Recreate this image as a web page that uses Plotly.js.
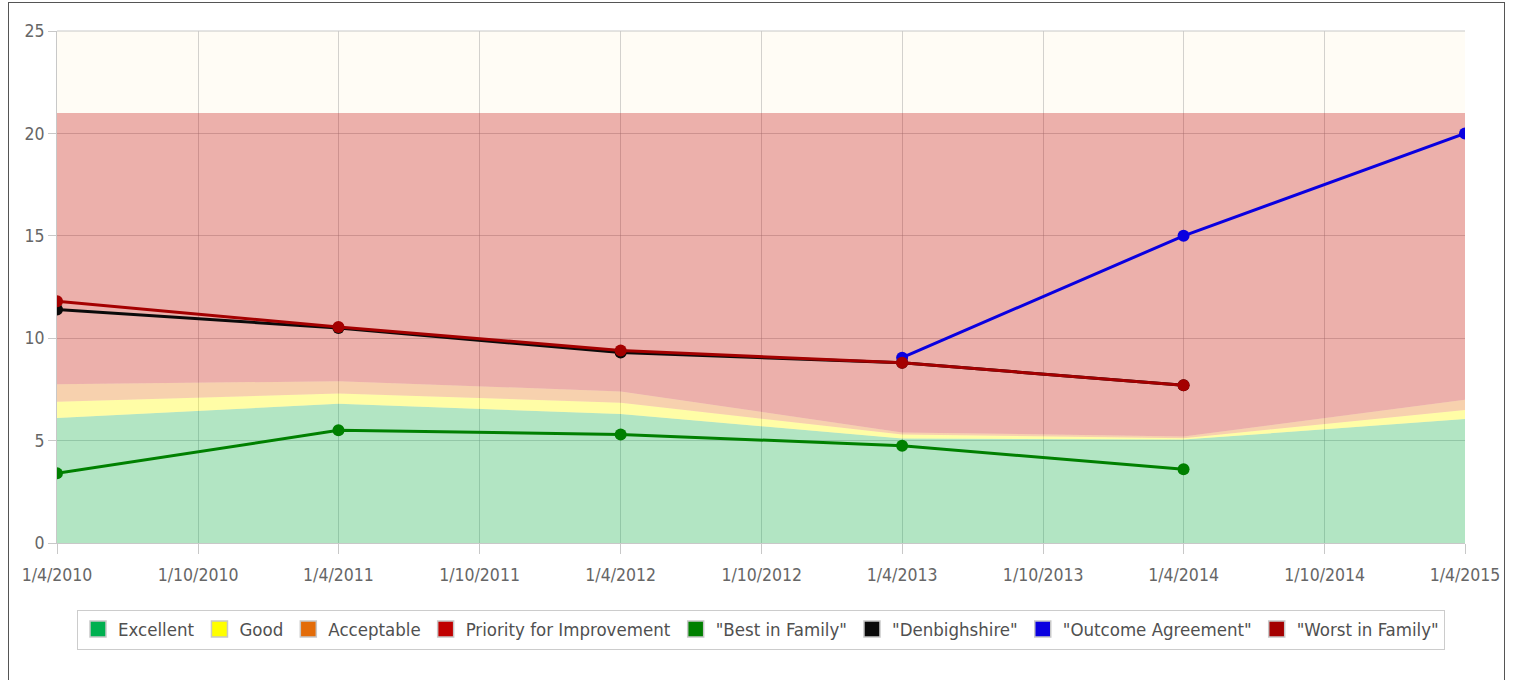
<!DOCTYPE html>
<html>
<head>
<meta charset="utf-8">
<script src="https://cdn.plot.ly/plotly-3.0.1.min.js"></script>
<style>
  html, body { margin: 0; padding: 0; background: #fff; overflow: hidden; }
  #frame { position: absolute; left: 8px; top: 2px; width: 1495px; height: 700px; border: 1px solid #555; background: #fff; }
  #chart { width: 1495px; height: 700px; }
</style>
</head>
<body>
<div id="frame"><div id="chart"></div></div>
<script>
// ---- data ----
const years = ['2010-04-01', '2011-04-01', '2012-04-01', '2013-04-01', '2014-04-01', '2015-04-01'];
const tickDates = ['2010-04-01', '2010-10-01', '2011-04-01', '2011-10-01', '2012-04-01', '2012-10-01',
                   '2013-04-01', '2013-10-01', '2014-04-01', '2014-10-01', '2015-04-01'];
const tickLabels = ['1/4/2010', '1/10/2010', '1/4/2011', '1/10/2011', '1/4/2012', '1/10/2012',
                    '1/4/2013', '1/10/2013', '1/4/2014', '1/10/2014', '1/4/2015'];

// upper edges of the performance bands
const excellentTop  = [6.1, 6.8, 6.3, 5.1, 5.05, 6.05];
const goodTop       = [6.9, 7.3, 6.85, 5.3, 5.12, 6.5];
const acceptableTop = [7.75, 7.9, 7.4, 5.4, 5.2, 7.0];
const priorityTop   = [21, 21, 21, 21, 21, 21];

// series lines
const bestInFamily      = [3.4, 5.5, 5.3, 4.75, 3.6, null];
const denbighshire      = [11.4, 10.5, 9.3, 8.8, 7.7, null];
const outcomeAgreement  = [null, null, null, 9.05, 15.0, 20.0];
const worstInFamily     = [11.8, 10.55, 9.4, 8.8, 7.7, null];

const bandNames = ['Excellent', 'Good', 'Acceptable', 'Priority for Improvement'];
const bandColors = ['#00b050', '#ffff00', '#e36c09', '#c00000'];
const bandFills = ['rgba(0,176,80,0.30)', 'rgba(255,255,0,0.32)', 'rgba(227,108,9,0.30)', 'rgba(192,0,0,0.30)'];
const lineNames = ['"Best in Family"', '"Denbighshire"', '"Outcome Agreement"', '"Worst in Family"'];
const lineColors = ['#008000', '#0a0a0a', '#0a00e0', '#a40000'];

// ---- traces ----
const bands = [excellentTop, goodTop, acceptableTop, priorityTop];
const lines = [bestInFamily, denbighshire, outcomeAgreement, worstInFamily];
const traces = [];
bands.forEach((b, i) => {
  traces.push({
    x: years, y: b, type: 'scatter', mode: 'lines',
    line: {width: 0, color: bandColors[i]},
    fill: i === 0 ? 'tozeroy' : 'tonexty',
    fillcolor: bandFills[i],
    showlegend: false, hoverinfo: 'skip'
  });
});
lines.forEach((l, i) => {
  traces.push({
    x: years, y: l, type: 'scatter', mode: 'lines+markers',
    line: {width: 3, color: lineColors[i]},
    marker: {size: 12, color: lineColors[i]},
    showlegend: false
  });
});
// legend entries (square swatches)
bandNames.concat(lineNames).forEach((n, i) => {
  const c = bandColors.concat(lineColors)[i];
  traces.push({
    x: [null], y: [null], type: 'scatter', mode: 'markers', name: n,
    marker: {symbol: 'square', size: 16, color: c, line: {color: '#c8c8c8', width: 1.5}},
    showlegend: true
  });
});

const fontFam = '"DejaVu Sans Condensed", "DejaVu Sans", sans-serif';
const layout = {
  width: 1495, height: 700,
  margin: {l: 48, r: 39, t: 28, b: 160},
  paper_bgcolor: '#ffffff',
  plot_bgcolor: '#fffcf5',
  font: {family: fontFam, size: 17, color: '#606060'},
  showlegend: true,
  legend: {
    orientation: 'h', x: 0.5, xanchor: 'center', y: -0.13, yanchor: 'top',
    traceorder: 'normal',
    bordercolor: '#cccccc', borderwidth: 1, bgcolor: '#ffffff',
    font: {family: fontFam, size: 18.5, color: '#505050'},
    itemwidth: 30, tracegroupgap: 0
  },
  xaxis: {
    type: 'date',
    range: ['2010-04-01', '2015-04-01'],
    tickmode: 'array', tickvals: tickDates, ticktext: tickLabels,
    showgrid: true, gridcolor: 'rgba(150,150,150,0.42)', gridwidth: 1,
    ticks: 'outside', ticklen: 10, tickcolor: '#c8c8c8',
    ticklabelstandoff: 6,
    showline: true, linecolor: '#c8c8c8', linewidth: 1,
    zeroline: false,
    tickfont: {family: fontFam, size: 17.5, color: '#666666'}
  },
  yaxis: {
    range: [0, 25], dtick: 5, tick0: 0,
    showgrid: true, gridcolor: 'rgba(150,150,150,0.42)', gridwidth: 1,
    ticks: 'outside', ticklen: 8, tickcolor: '#c8c8c8',
    showline: true, linecolor: '#c8c8c8', linewidth: 1,
    zeroline: false,
    tickfont: {family: fontFam, size: 17.5, color: '#666666'}
  },
  shapes: [{type: 'line', xref: 'paper', yref: 'paper', x0: 0, x1: 1, y0: 1, y1: 1, line: {color: '#c8c8c8', width: 1}}]
};

Plotly.newPlot('chart', traces, layout, {displayModeBar: false, staticPlot: true});
</script>
</body>
</html>
